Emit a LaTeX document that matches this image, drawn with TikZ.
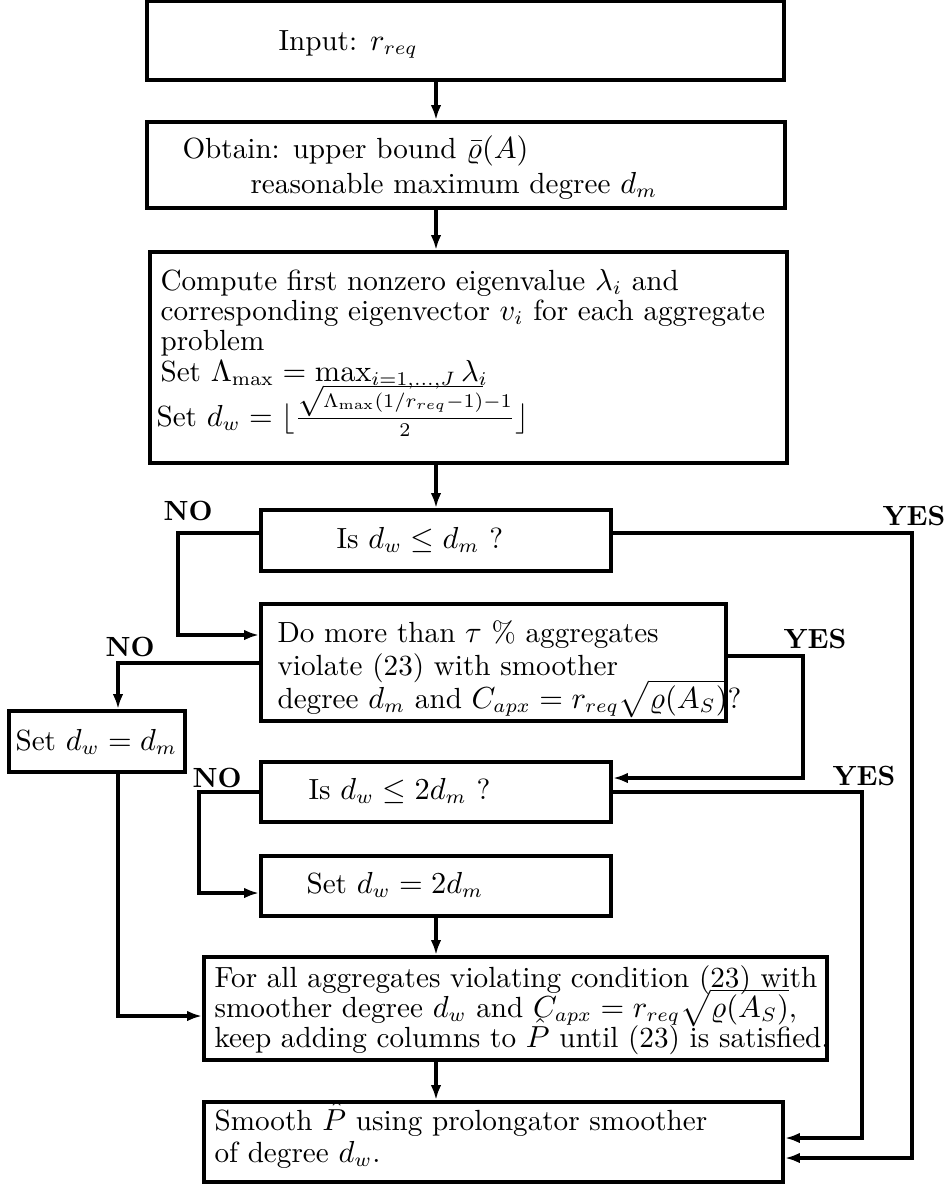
\documentclass[tikz,border=0pt]{standalone}
\usepackage{amsmath}
\usetikzlibrary{arrows.meta,fit,calc}
\begin{document}
\begin{tikzpicture}[x=0.36pt,y=-0.36pt,
  box/.style={draw, line width=1.4pt, inner sep=0pt},
  txt/.style={anchor=base west, inner sep=0pt, font=\fontsize{10.5}{12}\selectfont},
  lab/.style={inner sep=0pt, font=\fontsize{10}{12}\selectfont\bfseries},
  arr/.style={line width=1.1pt, -{Latex[length=5.4pt,width=3.8pt]}}]
\useasboundingbox (0,0) rectangle (949,1184);

% boxes
\node[box, fit={(147,1) (784,80)}] (b1) {};
\node[box, fit={(147,122) (785,208)}] (b2) {};
\node[box, fit={(150,252) (787,463)}] (b3) {};
\node[box, fit={(261,510) (611,571)}] (b4) {};
\node[box, fit={(261,604) (726,721)}] (b5) {};
\node[box, fit={(9,711) (185,772)}] (s) {};
\node[box, fit={(261,762) (611,822)}] (b6) {};
\node[box, fit={(261,856) (611,916)}] (b7) {};
\node[box, fit={(204,957) (827,1060)}] (b8) {};
\node[box, fit={(204,1102) (783,1182)}] (b9) {};

% texts
\node[txt] (t1) at (278,50) {Input: $r_{req}$};
\node[txt] (t2a) at (182,158) {Obtain: upper bound $\bar{\varrho}(A)$};
\node[txt] (t2b) at (250,193) {reasonable maximum degree $d_m$};
\node[txt] (t3a) at (160,290) {Compute first nonzero eigenvalue $\lambda_i$ and};
\node[txt] (t3b) at (160,320) {corresponding eigenvector $v_i$ for each aggregate};
\node[txt] (t3c) at (160,350) {problem};
\node[txt] (t3d) at (160,381) {Set $\Lambda_{\mathrm{max}} = \max_{i=1,\ldots,J}\lambda_i$};
\node[txt] (t3e) at (156,426) {Set $d_w = \lfloor\frac{\sqrt{\Lambda_{\mathrm{max}}(1/r_{req}-1)}-1}{2}\rfloor$};
\node[txt] (t4) at (336,548) {Is $d_w \le d_m$ ?};
\node[txt] (t5a) at (277,642) {Do more than $\tau$ \% aggregates};
\node[txt] (t5b) at (277,675) {violate (23) with smoother};
\node[txt] (t5c) at (277,708) {degree $d_m$ and $C_{apx} = r_{req}\sqrt{\varrho(A_S)}$?};
\node[txt] (ts) at (15,750) {Set $d_w = d_m$};
\node[txt] (t6) at (308,799) {Is $d_w \le 2d_m$ ?};
\node[txt] (t7) at (306,893) {Set $d_w = 2d_m$};
\node[txt] (t8a) at (214,987) {For all aggregates violating condition (23) with};
\node[txt] (t8b) at (214,1017) {smoother degree $d_w$ and $C_{apx} = r_{req}\sqrt{\varrho(A_S)}$,};
\node[txt] (t8c) at (214,1047) {keep adding columns to $\hat{P}$ until (23) is satisfied.};
\node[txt] (t9a) at (214,1130) {Smooth $\hat{P}$ using prolongator smoother};
\node[txt] (t9b) at (214,1162) {of degree $d_w$.};

% labels
\node[lab] (no1) at (188,511) {NO};
\node[lab] (yes1) at (914,516) {YES};
\node[lab] (no2) at (130,647) {NO};
\node[lab] (yes2) at (815,639) {YES};
\node[lab] (no3) at (217,778) {NO};
\node[lab] (yes3) at (864,776) {YES};

% bend coordinates
\coordinate (cx) at (436,0);
\coordinate (k1) at (178,533);
\coordinate (k1e) at (0,635);
\coordinate (k2) at (912,533);
\coordinate (k2e) at (0,1158);
\coordinate (k3) at (118,663);
\coordinate (k4) at (803,656);
\coordinate (k4e) at (0,778);
\coordinate (k5e) at (0,1016);
\coordinate (k6) at (199,792);
\coordinate (k6e) at (0,893);
\coordinate (k7) at (862,792);
\coordinate (k7e) at (0,1138);

% connectors
\draw[arr] (b1.south -| cx) -- (b2.north -| cx);
\draw[arr] (b2.south -| cx) -- (b3.north -| cx);
\draw[arr] (b3.south -| cx) -- (b4.north -| cx);
\draw[arr] (b7.south -| cx) -- (b8.north -| cx);
\draw[arr] (b8.south -| cx) -- (b9.north -| cx);
\draw[arr] (b4.west |- k1) -- (k1) |- (b5.west |- k1e);
\draw[arr] (b4.east |- k2) -- (k2) |- (b9.east |- k2e);
\draw[arr] (b5.west |- k3) -- (k3) -- (s.north -| k3);
\draw[arr] (b5.east |- k4) -- (k4) |- (b6.east |- k4e);
\draw[arr] (s.south -| k3) |- (b8.west |- k5e);
\draw[arr] (b6.west |- k6) -- (k6) |- (b7.west |- k6e);
\draw[arr] (b6.east |- k7) -- (k7) |- (b9.east |- k7e);
\end{tikzpicture}
\end{document}
